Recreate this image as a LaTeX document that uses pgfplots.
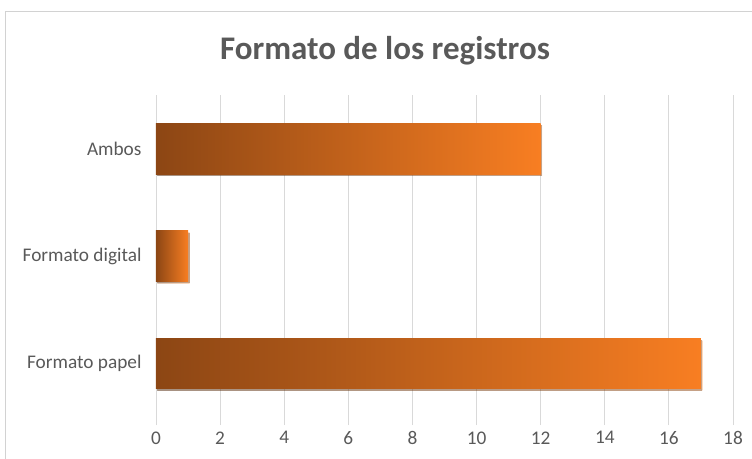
\documentclass[border=0pt]{standalone}
\usepackage{pgfplots}
\pgfplotsset{compat=1.18}
\usepackage{fontspec}
\setmainfont{Carlito}
\usetikzlibrary{shadows}
\definecolor{txtgray}{HTML}{595959}
\definecolor{gridgray}{HTML}{D9D9D9}
\definecolor{barleft}{RGB}{140,70,20}
\definecolor{barright}{RGB}{248,126,34}
\begin{document}
\begin{tikzpicture}[x=1pt,y=1pt]
\useasboundingbox (0,0) rectangle (752,458);
\draw[gray!35, line width=0.8pt] (5,-20) rectangle (800,447);
\node[font=\fontsize{33}{38}\selectfont\bfseries, text=txtgray] at (385,407) {Formato de los registros};
\begin{axis}[
  at={(156pt,33pt)}, anchor=south west,
  scale only axis, width=577pt, height=330pt,
  xmin=0, xmax=18, xtick={0,2,...,18},
  ymin=-0.57, ymax=2.5, ytick={0,1,2},
  yticklabels={Formato papel, Formato digital, Ambos},
  axis line style={draw=none},
  major tick length=0pt,
  xmajorgrids, major grid style={gridgray, line width=0.9pt},
  ticklabel style={font=\fontsize{19.3}{23}\selectfont, text=txtgray},
  /pgf/number format/assume math mode=true,
  xticklabel style={yshift=-3pt},
  yticklabel style={xshift=-11pt},
  clip=false,
  mybar/.style={xbar, bar width=0.47, bar shift=0pt, draw=none, mark=none,
    left color=barleft, right color=barright,
    drop shadow={shadow xshift=1.5pt, shadow yshift=-1.8pt, opacity=0.3, fill=black}},
]
\addplot[mybar] coordinates {(17,0)};
\addplot[mybar] coordinates {(1,1)};
\addplot[mybar] coordinates {(12,2)};
\end{axis}
\end{tikzpicture}
\end{document}
